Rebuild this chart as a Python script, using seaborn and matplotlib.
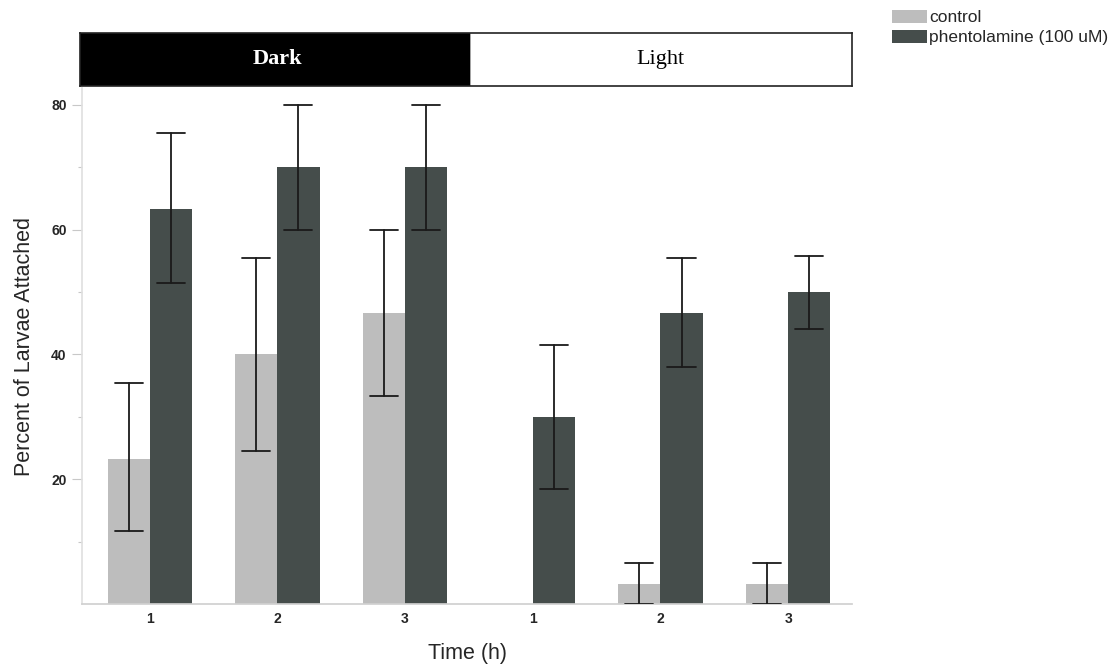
import matplotlib
matplotlib.use("Agg")
import matplotlib.pyplot as plt
import seaborn as sns
import pandas as pd
import numpy as np
from matplotlib.patches import Patch
from matplotlib.ticker import FixedLocator

# ---- data ----
slots = ["D1", "D2", "D3", "L1", "L2", "L3"]
tick_labels = ["1", "2", "3", "1", "2", "3"]
treatments = ["control", "phentolamine (100 uM)"]
control_vals = [23.3, 40.0, 46.7, 0.0, 3.2, 3.2]
control_lo = [11.7, 24.5, 33.3, 0.0, 0.0, 0.0]
control_hi = [35.5, 55.5, 60.0, 0.0, 6.6, 6.6]
phent_vals = [63.3, 70.0, 70.0, 30.0, 46.7, 50.0]
phent_lo = [51.5, 60.0, 60.0, 18.5, 38.0, 44.0]
phent_hi = [75.5, 80.0, 80.0, 41.5, 55.5, 55.8]
phase_labels = ["Dark", "Light"]

colors = {"control": "#bdbdbd", "phentolamine (100 uM)": "#454d4b"}

df = pd.DataFrame({
    "slot": slots * 2,
    "value": control_vals + phent_vals,
    "treatment": [treatments[0]] * 6 + [treatments[1]] * 6,
})

sns.set_theme(style="white")
plt.rcParams["font.family"] = ["Liberation Sans", "DejaVu Sans"]

fig = plt.figure(figsize=(11.18, 6.70), dpi=100)
ax = fig.add_axes([82 / 1118, 66 / 670, (852 - 82) / 1118, (604 - 88) / 670])

sns.barplot(data=df, x="slot", y="value", hue="treatment", order=slots,
            hue_order=treatments, palette=colors, errorbar=None,
            width=0.66, gap=0, saturation=1, linewidth=0, ax=ax, legend=False)

# error bars positioned at bar centres
for cont, lo, hi in zip(ax.containers, [control_lo, phent_lo], [control_hi, phent_hi]):
    for bar, l, h in zip(cont, lo, hi):
        if h - l <= 0:
            continue
        xc = bar.get_x() + bar.get_width() / 2
        ax.plot([xc, xc], [l, h], color="#1a1a1a", lw=1.3, zorder=5)
        for yy in (l, h):
            ax.plot([xc - 0.11, xc + 0.11], [yy, yy], color="#1a1a1a", lw=1.3, zorder=5)

ax.set_xlim(-0.53, 5.5)
ax.set_ylim(0, 82.7)
ax.yaxis.set_major_locator(FixedLocator([20, 40, 60, 80]))
ax.yaxis.set_minor_locator(FixedLocator([10, 30, 50, 70]))
ax.set_xticks(range(6))
ax.set_xticklabels(tick_labels, fontweight="bold", fontsize=10)
for t in ax.get_yticklabels():
    t.set_fontweight("bold")
    t.set_fontsize(10)
ax.tick_params(axis="y", which="major", length=7, width=0.8, color="#c8c8c8", left=True, pad=4)
ax.tick_params(axis="y", which="minor", length=3, width=0.8, color="#c8c8c8", left=True)
ax.tick_params(axis="x", length=0, pad=6)
for s in ["top", "right"]:
    ax.spines[s].set_visible(False)
ax.spines["left"].set_color("#e0e0e0")
ax.spines["bottom"].set_color("#d0d0d0")
ax.set_xlabel("Time (h)", fontsize=15.5, labelpad=12)
ax.set_ylabel("Percent of Larvae Attached", fontsize=15.5, labelpad=12)

# Dark / Light band
band = fig.add_axes([80 / 1118, (670 - 86) / 670, (852 - 80) / 1118, 53 / 670])
band.set_xlim(-0.545, 5.5)
band.set_ylim(0, 1)
band.axvspan(-0.545, 2.5, color="black")
band.axvline(2.5, color="black", lw=1)
band.set_xticks([])
band.set_yticks([])
for s in band.spines.values():
    s.set_color("#222222")
    s.set_linewidth(1.2)
band.text(1.0, 0.5, phase_labels[0], color="white", ha="center", va="center",
          fontsize=16, family="Liberation Serif", fontweight="bold")
band.text(4.0, 0.5, phase_labels[1], color="black", ha="center", va="center",
          fontsize=16, family="Liberation Serif")

# legend
handles = [Patch(facecolor=colors[t], edgecolor="none", label=t) for t in treatments]
fig.legend(handles=handles, loc="upper right", bbox_to_anchor=(1.0, 1.0),
           frameon=False, fontsize=12.5, handlelength=2.0, handleheight=0.8,
           handletextpad=0.15, labelspacing=0.25, borderaxespad=0.15)

fig.savefig("out.png", dpi=100)
